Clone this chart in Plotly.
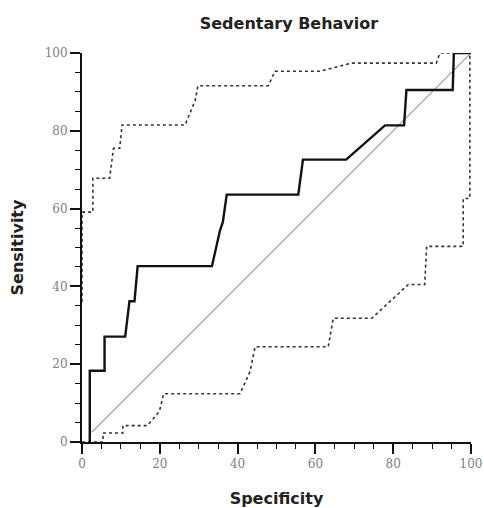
import plotly.graph_objects as go

# ROC curve (solid)
roc_x = [2, 2, 5.8, 5.8, 11.1, 12.2, 13.5, 14.3, 14.3, 33.4, 35.5, 36.2, 37.2, 55.6, 56.8, 67.9, 77.9, 82.8, 83.4, 95.3, 95.6, 100]
roc_y = [0, 18.3, 18.3, 27.1, 27.1, 36.2, 36.2, 45.2, 45.2, 45.2, 54.5, 56.5, 63.6, 63.6, 72.6, 72.6, 81.4, 81.4, 90.5, 90.5, 100, 100]

# Upper confidence bound (dotted)
upper_x = [0, 0, 2.8, 2.8, 7.1, 8.1, 9.7, 10.3, 26.5, 29.1, 29.8, 47.9, 49.6, 61.2, 69.3, 91.1, 92, 100]
upper_y = [36, 59.1, 59.1, 67.8, 67.8, 75.5, 75.5, 81.5, 81.5, 87.8, 91.6, 91.6, 95.3, 95.3, 97.4, 97.4, 100, 100]

# Lower confidence bound (dotted)
lower_x = [0, 5.4, 5.4, 10.5, 10.5, 16.8, 19.9, 21, 40.6, 43.2, 44.5, 63.3, 64.6, 74.5, 83.9, 88.1, 88.6, 98, 98, 99.7, 99.7]
lower_y = [0, 0, 2.3, 2.3, 4.2, 4.2, 7.9, 12.4, 12.4, 18.1, 24.5, 24.5, 31.8, 31.8, 40.5, 40.5, 50.3, 50.3, 62.6, 62.6, 100]

# Reference diagonal
diag_x = [2.5, 100]
diag_y = [2.5, 100]

tick_vals = [0, 20, 40, 60, 80, 100]
tick_text = ["0", "20", "40", "60", "80", "100"]

fig = go.Figure()
fig.add_trace(go.Scatter(x=diag_x, y=diag_y, mode="lines",
                         line=dict(color="#a0a0a0", width=1.2), hoverinfo="skip"))
fig.add_trace(go.Scatter(x=upper_x, y=upper_y, mode="lines",
                         line=dict(color="#333333", width=1.6, dash="dot")))
fig.add_trace(go.Scatter(x=lower_x, y=lower_y, mode="lines",
                         line=dict(color="#333333", width=1.6, dash="dot")))
fig.add_trace(go.Scatter(x=roc_x, y=roc_y, mode="lines",
                         line=dict(color="#111111", width=2.4)))

axis_common = dict(
    range=[0, 100],
    tickvals=tick_vals,
    ticktext=tick_text,
    ticks="outside",
    ticklen=10,
    tickwidth=1.5,
    tickcolor="#111111",
    showline=True,
    linecolor="#111111",
    linewidth=2,
    showgrid=False,
    zeroline=False,
    automargin=False,
    tickfont=dict(family="DejaVu Serif", size=12, color="#808080"),
    minor=dict(dtick=5, ticks="outside", ticklen=5, tickwidth=1.2, tickcolor="#111111", showgrid=False),
)

title_font = dict(family="DejaVu Sans", size=16, color="#222222")

fig.update_layout(
    width=484,
    height=508,
    margin=dict(l=82, r=13, t=53, b=66),
    paper_bgcolor="white",
    plot_bgcolor="white",
    showlegend=False,
    title=dict(text="<b>Sedentary Behavior</b>", x=0.597, xref="container", xanchor="center",
               y=0.954, yref="container", yanchor="middle", font=title_font),
    xaxis=dict(axis_common, title=dict(text="<b>Specificity</b>", standoff=27, font=title_font)),
    yaxis=dict(axis_common, title=dict(text="<b>Sensitivity</b>", standoff=17, font=title_font)),
)

fig.write_html("out.html",
               config={"displayModeBar": False},
               post_script="document.body.style.margin='0px';document.body.style.overflow='hidden';")
